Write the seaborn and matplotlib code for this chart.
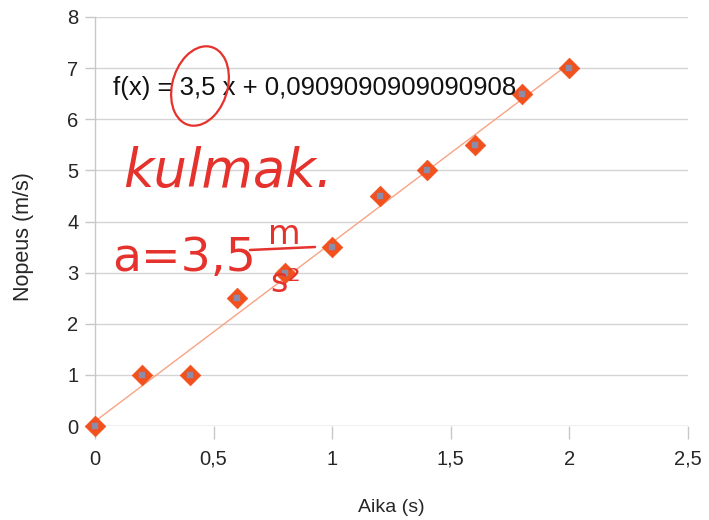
import matplotlib
matplotlib.use("Agg")
import matplotlib.pyplot as plt
import seaborn as sns
import numpy as np
import pandas as pd
from matplotlib.patches import Ellipse
from matplotlib.ticker import FuncFormatter

# Data
aika = [0.0, 0.2, 0.4, 0.6, 0.8, 1.0, 1.2, 1.4, 1.6, 1.8, 2.0]
nopeus = [0.0, 1.0, 1.0, 2.5, 3.0, 3.5, 4.5, 5.0, 5.5, 6.5, 7.0]
x_ticks = [0, 0.5, 1, 1.5, 2, 2.5]
y_ticks = [0, 1, 2, 3, 4, 5, 6, 7, 8]
formula_text = "f(x) = 3,5 x + 0,0909090909090908"

sns.set_style("white")
plt.rcParams['font.family'] = ['Liberation Sans', 'DejaVu Sans']

df = pd.DataFrame({"Aika": aika, "Nopeus": nopeus})

fig = plt.figure(figsize=(7.09, 5.20), dpi=100)
ax = fig.add_axes([95/709, 1-426/520, (688-95)/709, (426-17)/520])

# Trend line
sns.regplot(data=df, x="Aika", y="Nopeus", ax=ax, ci=None, scatter=False,
            line_kws=dict(color="#f7a384", lw=1.0, zorder=2))
# Markers
sns.scatterplot(data=df, x="Aika", y="Nopeus", ax=ax, marker="D", s=110,
                color="#f2501c", edgecolor="#f2501c", linewidth=0.5, zorder=3,
                clip_on=False)
sns.scatterplot(data=df, x="Aika", y="Nopeus", ax=ax, marker="s", s=18,
                color="#8c8ca8", edgecolor="#8c8ca8", linewidth=0.3, zorder=4,
                clip_on=False)

ax.set_xlim(0, 2.5)
ax.set_ylim(0, 8)
ax.set_xticks(x_ticks)
ax.set_yticks(y_ticks)
fmt = FuncFormatter(lambda v, p: (f"{v:g}").replace(".", ","))
ax.xaxis.set_major_formatter(fmt)
ax.yaxis.set_major_formatter(fmt)

ax.grid(axis="y", color="#d4d4d4", lw=1.0)
ax.grid(axis="x", visible=False)
ax.set_axisbelow(True)
for s in ["top", "right", "bottom"]:
    ax.spines[s].set_visible(False)
ax.spines["left"].set_color("#c8c8c8")
ax.spines["left"].set_linewidth(1.0)
ax.tick_params(axis="x", which="major", length=9, width=1, color="#c8c8c8",
               labelsize=14.5, pad=8, bottom=True)
ax.tick_params(axis="y", which="major", length=7, width=1, color="#c8c8c8",
               labelsize=14.5, pad=5, left=True)
ax.axhline(0, color="#d4d4d4", lw=1.0, zorder=1)

ax.set_xlabel("Aika (s)", fontsize=14, labelpad=22)
ax.set_ylabel("Nopeus (m/s)", fontsize=15.5)
ax.yaxis.set_label_coords(-(95-34)/593, (426-237)/409)

def af(px, py):
    return ((px-95)/593, (426-py)/409)

# Regression formula
ax.text(*af(113, 88), formula_text, transform=ax.transAxes, fontsize=18.5,
        va="center", ha="left", color="#111111", zorder=5)

red = "#e5322d"
# Handwritten annotations
cx, cy = af(200, 86)
ell = Ellipse((cx, cy), width=56/593, height=80/409, transform=ax.transAxes,
              fill=False, edgecolor=red, lw=1.6, angle=-8, zorder=6)
ax.add_patch(ell)
ax.text(*af(123, 172), "kulmak.", transform=ax.transAxes, fontsize=38,
        color=red, va="center", ha="left", style="italic",
        family=["DejaVu Sans"], zorder=6)
ax.text(*af(112, 258), "a=3,5", transform=ax.transAxes, fontsize=34,
        color=red, va="center", ha="left", family=["DejaVu Sans"], zorder=6)
ax.text(*af(284, 234), "m", transform=ax.transAxes, fontsize=24,
        color=red, va="center", ha="center", family=["DejaVu Sans"], zorder=6)
x0, y0 = af(250, 250)
x1, y1 = af(315, 247)
ax.plot([x0, x1], [y0, y1], transform=ax.transAxes, color=red, lw=1.8, zorder=6)
ax.text(*af(286, 282), "s²", transform=ax.transAxes, fontsize=24,
        color=red, va="center", ha="center", family=["DejaVu Sans"], zorder=6)

fig.savefig("out.png", dpi=100)
